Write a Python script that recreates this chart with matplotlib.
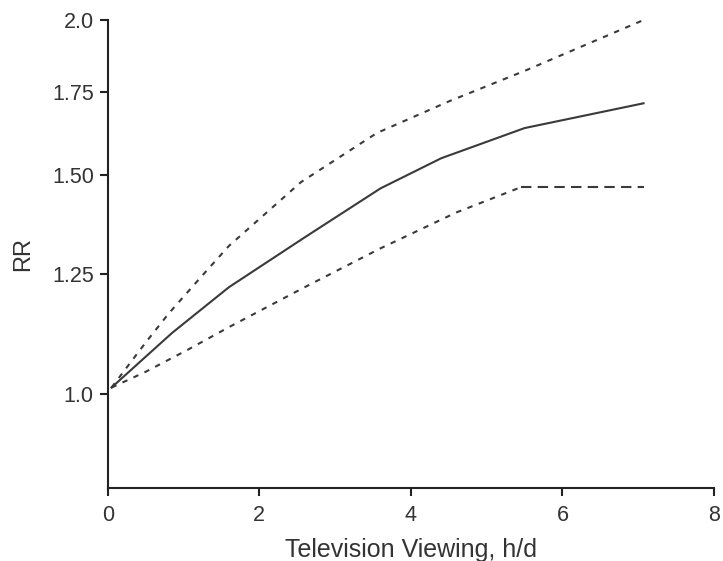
import matplotlib.pyplot as plt
from matplotlib.ticker import FixedLocator, NullLocator

plt.rcParams['font.family'] = ['Liberation Sans', 'DejaVu Sans']

# relative risk vs hours of TV per day
hours = [0.05, 0.4, 0.85, 1.6, 2.6, 3.6, 4.4, 5.5, 7.07]
rr = [1.012, 1.058, 1.12, 1.219, 1.337, 1.464, 1.548, 1.637, 1.714]

hours_hi = [0.05, 0.5, 0.8, 1.25, 1.6, 2.55, 3.55, 4.5, 5.5, 7.07]
rr_hi = [1.012, 1.10, 1.16, 1.246, 1.316, 1.481, 1.622, 1.72, 1.82, 2.0]

hours_lo = [0.05, 0.5, 1.05, 1.6, 2.6, 3.6, 4.6, 5.45, 7.07]
rr_lo = [1.012, 1.042, 1.085, 1.132, 1.219, 1.31, 1.40, 1.467, 1.467]

yticks = [1.0, 1.25, 1.5, 1.75, 2.0]
ytick_labels = ['1.0', '1.25', '1.50', '1.75', '2.0']
xticks = [0, 2, 4, 6, 8]

col = '#3a3a3a'
txt = '#333333'

fig = plt.figure(figsize=(7.23, 5.61), dpi=100)
ax = fig.add_axes([0.149, 0.130, 0.8386, 0.8343])

ax.plot(hours, rr, color=col, lw=1.5)
ax.plot(hours_hi, rr_hi, color=col, lw=1.5, linestyle=(0, (2.6, 3.2)))
ax.plot(hours_lo[:-1], rr_lo[:-1], color=col, lw=1.5, linestyle=(0, (2.6, 3.2)))
# flat tail of the lower bound, longer dashes
ax.plot(hours_lo[-2:], rr_lo[-2:], color=col, lw=1.5, linestyle=(0, (5, 3)))

ax.set_yscale('log')
ax.set_ylim(0.84, 2.0)
ax.set_xlim(0, 8)
ax.yaxis.set_major_locator(FixedLocator(yticks))
ax.yaxis.set_minor_locator(NullLocator())
ax.set_yticklabels(ytick_labels)
ax.set_xticks(xticks)
ax.set_xticklabels([str(t) for t in xticks])

for s in ['top', 'right']:
    ax.spines[s].set_visible(False)
for s in ['left', 'bottom']:
    ax.spines[s].set_linewidth(1.5)
    ax.spines[s].set_color('#222222')
ax.tick_params(axis='both', direction='out', length=6, width=1.5, color='#222222',
               labelsize=15.5, labelcolor=txt)
ax.tick_params(axis='y', pad=4)
ax.tick_params(axis='x', pad=6)

ax.set_xlabel('Television Viewing, h/d', fontsize=18, color=txt, labelpad=9)
ax.set_ylabel('RR', fontsize=17, color=txt, labelpad=13)

fig.savefig('out.png', dpi=100)
